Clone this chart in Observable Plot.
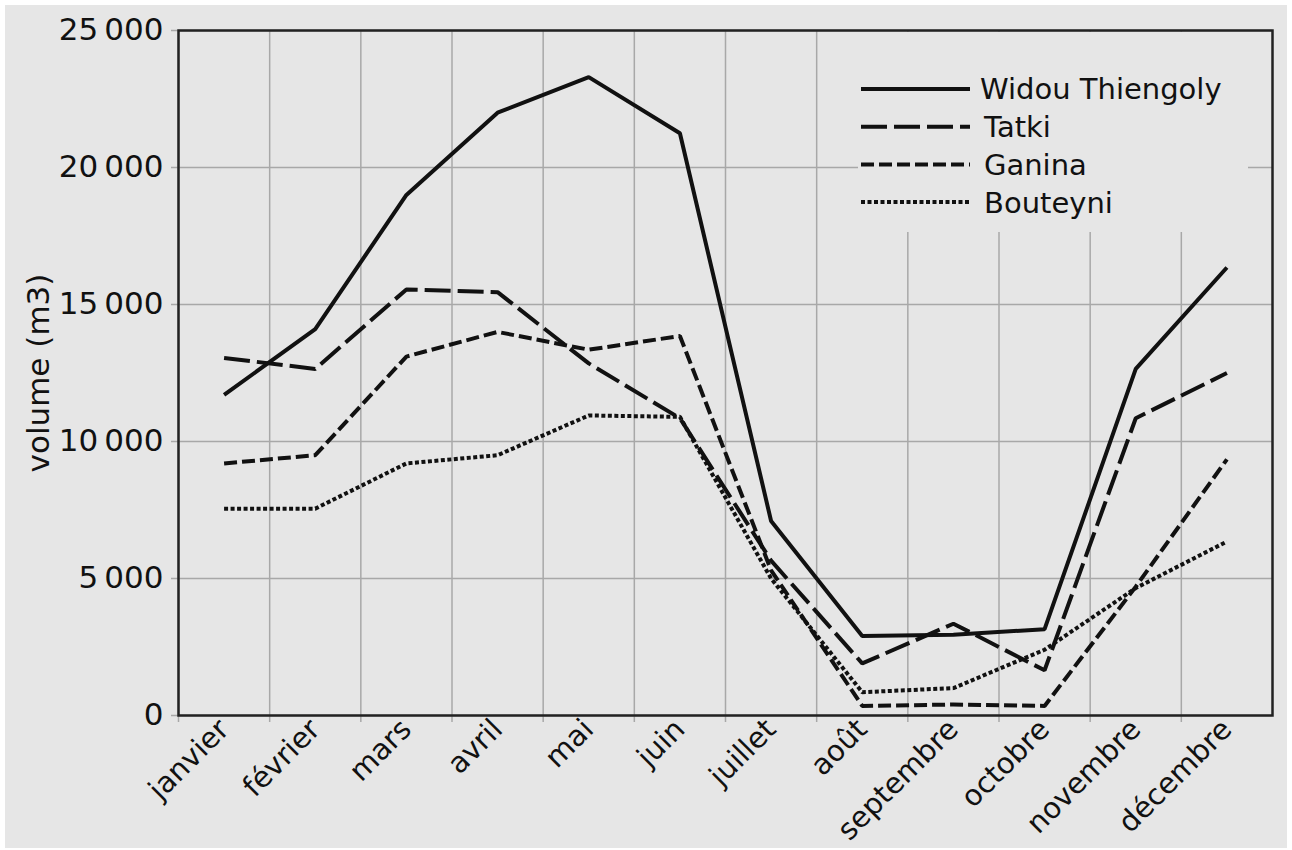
<!DOCTYPE html>
<html><head><meta charset="utf-8">
<script src="https://cdn.jsdelivr.net/npm/d3@7"></script>
<script src="https://cdn.jsdelivr.net/npm/@observablehq/plot@0.6"></script>
<style>
body{margin:0;background:#fff;}
#wrap{position:absolute;left:5px;top:5px;width:1282px;height:843px;background:#e6e6e6;overflow:hidden;font-family:"DejaVu Sans",Verdana,sans-serif;}
#legend{position:absolute;left:853px;top:27px;width:390px;height:200px;background:#e6e6e6;}
</style></head><body><div id="wrap"><div id="chart"></div><div id="legend"></div></div>
<script>
const months = ["janvier","février","mars","avril","mai","juin","juillet","août","septembre","octobre","novembre","décembre"];
const seriesNames = ["Widou Thiengoly","Tatki","Ganina","Bouteyni"];
const widou    = [11700, 14100, 19000, 22000, 23300, 21250, 7100, 2900, 2950, 3150, 12650, 16350];
const tatki    = [13050, 12650, 15550, 15450, 12850, 10850, 5650, 1900, 3350, 1650, 10850, 12500];
const ganina   = [9200, 9500, 13100, 14000, 13350, 13850, 5300, 350, 400, 350, 4700, 9350];
const bouteyni = [7550, 7550, 9200, 9500, 10950, 10900, 5000, 850, 1000, 2400, 4650, 6350];
const yTicks = [0, 5000, 10000, 15000, 20000, 25000];

const seriesValues = [widou, tatki, ganina, bouteyni];
const dashes = ["none", "26,7", "13,5", "4,2.5"];
const ink = "#111";
const idx = months.map((m, i) => i);
const fmt = d => d3.format(",")(d).replace(/,/g, "\u2009");

const lineMarks = seriesValues.map((vals, s) =>
  Plot.line(vals, {x: (d, i) => i, y: d => d, stroke: ink, strokeWidth: 4,
    strokeDasharray: dashes[s], strokeLinejoin: "miter", strokeLinecap: "butt"}));

const plot = Plot.plot({
  width: 1282, height: 843,
  marginLeft: 173, marginRight: 15, marginTop: 25, marginBottom: 133,
  style: {background: "transparent", fontFamily: "'DejaVu Sans', Verdana, sans-serif", color: ink},
  x: {domain: [-0.5, 11.5]},
  y: {domain: [0, 25000]},
  marks: [
    Plot.ruleY(yTicks, {stroke: "#a8a8a8", strokeWidth: 1.5, insetLeft: -7}),
    Plot.ruleX(idx.slice(0, 11).map(i => i - 0.5).concat([10.5]), {stroke: "#a8a8a8", strokeWidth: 1.5, insetBottom: -7}),
    Plot.axisY(yTicks, {tickFormat: fmt, tickSize: 0, tickPadding: 15, fontSize: 31,
      label: "volume (m3)", labelAnchor: "center", labelArrow: "none", labelOffset: 152}),
    Plot.axisX(idx, {tickFormat: i => months[i], tickSize: 0, tickRotate: -45, tickPadding: 9, fontSize: 29, label: null}),
    ...lineMarks,
    Plot.frame({stroke: "#222", strokeWidth: 2.5})
  ]
});
document.getElementById("chart").appendChild(plot);

// legend
const ns = "http://www.w3.org/2000/svg";
const lg = document.createElementNS(ns, "svg");
lg.setAttribute("width", 390); lg.setAttribute("height", 200);
seriesNames.forEach((name, s) => {
  const y = 57 + s * 37.7;
  const l = document.createElementNS(ns, "line");
  l.setAttribute("x1", 3); l.setAttribute("x2", 112); l.setAttribute("y1", y); l.setAttribute("y2", y);
  l.setAttribute("stroke", ink); l.setAttribute("stroke-width", 4);
  if (dashes[s] !== "none") l.setAttribute("stroke-dasharray", dashes[s]);
  lg.appendChild(l);
  const t = document.createElementNS(ns, "text");
  t.setAttribute("x", 122 + (s > 0 ? 4 : 0)); t.setAttribute("y", y); t.setAttribute("dy", "0.36em");
  t.setAttribute("font-size", 29); t.setAttribute("fill", ink);
  t.setAttribute("font-family", "'DejaVu Sans', Verdana, sans-serif");
  t.textContent = name;
  lg.appendChild(t);
});
document.getElementById("legend").appendChild(lg);
</script></body></html>
